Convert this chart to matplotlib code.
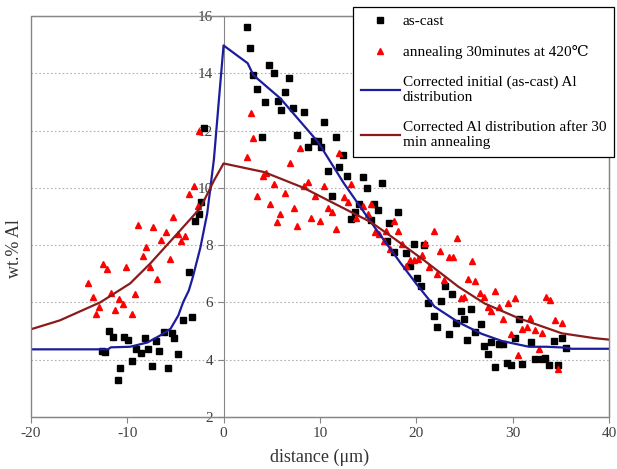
import matplotlib
matplotlib.use("Agg")
import matplotlib.pyplot as plt
from matplotlib.patches import Rectangle

# as-cast measurements
cast_x = [-11.9, -11.5, -12.6, -12.3, -11.0, -10.7, -10.3, -9.9, -9.5, -9.1, -8.6, -8.2,
          -7.8, -7.4, -7.0, -6.7, -6.2, -5.8, -5.4, -5.1, -4.7, -4.2, -3.3, -3.6, -3.0,
          -2.6, -2.3, -2.0,
          2.4, 2.7, 3.1, 3.5, 4.3, 4.7, 5.2, 5.6, 6.0, 6.4, 6.8, 7.2, 8.4, 7.6, 4.0,
          10.4, 11.7, 9.4, 9.8, 8.75, 10.1, 12.4, 10.8, 12.0, 12.8, 11.25, 14.1, 13.6,
          13.2, 14.5, 14.9, 16.4, 15.3, 15.6, 16.0, 17.2, 18.1, 17.0, 17.7, 18.9, 19.8,
          20.8, 19.3, 20.1, 20.5, 21.25, 21.8, 22.2, 22.6, 23.0, 23.4, 23.75, 24.1, 24.6,
          25.0, 25.3, 25.7, 26.1, 26.7, 27.0, 27.4, 27.8, 28.2, 28.6, 29.0, 29.4, 29.8,
          30.2, 30.7, 31.0, 31.9, 32.3, 33.1, 33.4, 33.75, 34.3, 35.1, 35.5, 34.7]
cast_y = [5.0, 4.78, 4.29, 4.26, 3.28, 3.7, 4.78, 4.7, 3.94, 4.36, 4.22, 4.75,
          4.36, 3.77, 4.64, 4.29, 4.95, 3.7, 4.92, 4.75, 4.19, 5.4, 5.5, 7.05, 8.85,
          9.07, 9.5, 12.1,
          15.6, 14.87, 13.93, 13.44, 12.98, 14.28, 14.0, 13.02, 12.7, 13.33, 13.82, 12.77,
          12.63, 11.83, 11.76,
          12.28, 11.76, 11.62, 11.62, 11.41, 11.41, 11.13, 10.57, 10.71, 10.4, 9.73, 9.43,
          9.14, 8.9, 10.37, 10.0, 10.16, 8.87, 9.45, 9.24, 8.76, 9.17, 8.13, 7.75, 7.72,
          8.03, 8.0, 7.26, 6.84, 6.56, 5.97, 5.52, 5.13, 6.04, 6.56, 4.88, 6.28, 5.27,
          5.69, 5.41, 4.68, 5.76, 4.96, 5.24, 4.46, 4.19, 4.6, 3.73, 4.55, 4.53, 3.9,
          3.83, 4.77, 5.41, 3.86, 4.6, 4.02, 4.02, 4.05, 3.83, 4.64, 4.74, 4.39, 3.8]

# after annealing 30 min at 420 C
ann_x = [-2.5, -3.1, -3.6, -2.7, -5.2, -8.85, -7.3, -6.0, -4.7, -4.0, -4.4, -6.5, -8.0,
         -8.4, -5.6, -12.5, -12.1, -10.1, -7.6, -6.9, -14.1, -13.5, -11.7, -10.9, -9.2,
         -12.9, -13.2, -11.25, -10.4, -9.5,
         2.8, 3.1, 2.4, 6.9, 7.9, 4.05, 4.4, 5.2, 6.4, 3.5, 4.8, 7.3, 5.9, 5.5, 7.6,
         8.75, 8.4, 10.4, 9.5, 9.1, 10.0, 10.8, 11.25, 11.7, 12.0, 13.2, 12.5, 12.9,
         13.75, 14.5, 15.0, 15.3, 15.7, 16.1, 16.6, 16.9, 17.3, 17.7, 18.1, 18.5, 18.9,
         19.4, 19.8, 20.2, 20.6, 20.9, 21.35, 21.8, 22.1, 22.5, 22.9, 23.4, 23.85, 24.2,
         24.6, 25.0, 25.4, 25.8, 26.1, 26.6, 27.0, 27.4, 27.8, 28.2, 28.6, 29.0, 29.5,
         30.2, 29.8, 30.6, 31.0, 31.45, 31.8, 32.3, 32.7, 33.1, 33.5, 33.9, 34.4, 34.7,
         35.1]
ann_y = [12.0, 10.08, 9.8, 9.35, 8.97, 8.69, 8.62, 8.44, 8.37, 8.3, 8.13, 8.17, 7.92,
         7.61, 7.5, 7.33, 7.15, 7.22, 7.22, 6.8, 6.66, 6.18, 6.33, 6.13, 6.3,
         5.83, 5.58, 5.75, 5.93, 5.6,
         12.6, 11.73, 11.06, 10.85, 11.4, 10.4, 10.5, 10.15, 9.83, 9.7, 9.42, 9.28, 9.07,
         8.82, 8.68, 10.19, 10.08, 10.08, 9.7, 8.96, 8.83, 9.3, 9.17, 8.55, 11.2, 10.15,
         9.67, 9.5, 8.93, 9.35, 9.1, 9.45, 8.44, 8.4, 8.13, 8.5, 7.85, 8.83, 8.5, 8.05,
         7.28, 7.49, 7.49, 7.53, 7.67, 8.09, 7.25, 8.5, 7.0, 7.78, 6.77, 7.57, 7.57, 8.24,
         6.15, 6.19, 6.8, 7.46, 6.73, 6.32, 6.2, 5.83, 5.69, 6.39, 5.83, 5.41, 5.97,
         6.15, 4.88, 4.15, 5.06, 5.13, 5.45, 5.03, 4.36, 4.92, 6.18, 6.07, 5.4, 3.69,
         5.27]

# corrected profiles
init_x = [-20, -12, -11.7, -9.7, -7.9, -6.6, -5.5, -4.7, -4.2, -3.6, -3.2, -2.4, -1.7,
          -1.0, -0.5, 0, 2.5, 3.1, 5.9, 9.8, 12.5, 15.3, 18.4, 20.0, 21.9, 24.4, 26.8,
          28.9, 31.7, 33.5, 35.5, 36.1, 40]
init_y = [4.36, 4.36, 4.43, 4.45, 4.6, 4.84, 5.08, 5.54, 6.0, 6.42, 6.87, 7.92, 9.1,
          11.0, 13.0, 14.97, 14.35, 13.93, 13.12, 11.6, 10.15, 8.8, 7.36, 6.65, 5.85, 5.3,
          4.9, 4.65, 4.45, 4.45, 4.42, 4.38, 4.38]
annl_x = [-20, -17, -14.6, -12.8, -9.7, -7.6, -4.8, -2.4, -1.0, 0, 4.2, 8.3, 11.5, 15.3,
          17.7, 20.8, 24.4, 27.1, 30.6, 35.1, 38.5, 40]
annl_y = [5.06, 5.37, 5.73, 6.0, 6.66, 7.36, 8.4, 9.3, 10.25, 10.85, 10.55, 10.0, 9.45,
          8.8, 8.23, 7.47, 6.54, 5.96, 5.45, 4.92, 4.75, 4.7]

serif = ['Liberation Serif', 'DejaVu Serif']
plt.rcParams['font.family'] = serif
plt.rcParams['axes.unicode_minus'] = False

fig = plt.figure(figsize=(6.17, 4.69), dpi=100)
ax = fig.add_axes([0.050, 0.111, 0.937, 0.855])

ax.plot(cast_x, cast_y, 's', color='black', markersize=4, label='as-cast', zorder=3)
ax.plot(ann_x, ann_y, '^', color='#ff0000', markersize=5, label='annealing 30minutes at 420\u2103', zorder=3)
ax.plot(init_x, init_y, '-', color='#1c1c9c', lw=1.6,
        label='Corrected initial (as-cast) Al\ndistribution', zorder=4)
ax.plot(annl_x, annl_y, '-', color='#8b1a1a', lw=1.6,
        label='Corrected Al distribution after 30\nmin annealing', zorder=4)

ax.set_xlim(-20, 40)
ax.set_ylim(2, 16)
ax.set_xticks(range(-20, 41, 10))
ax.set_yticks(range(2, 17, 2))
for yv in range(4, 16, 2):
    ax.axhline(yv, color='#b0b0b0', lw=0.8, ls=(0, (1.5, 2)), zorder=1)

for s in ['top', 'right', 'bottom']:
    ax.spines[s].set_color('#868686')
ax.spines['left'].set_position(('data', 0))
ax.spines['left'].set_color('#868686')
ax.add_patch(Rectangle((0, 0), 1, 1, transform=ax.transAxes, fill=False,
                       edgecolor='#868686', lw=1.0, clip_on=False, zorder=5))
ax.tick_params(colors='#868686', labelcolor='#404040', labelsize=11, length=4)

ax.set_xlabel('distance (\u03bcm)', fontsize=13, color='#333333', labelpad=6)
ax.set_ylabel('wt.% Al', fontsize=13, color='#333333')
ax.yaxis.set_label_coords(-0.014, 0.42)

leg = ax.legend(loc='upper left', bbox_to_anchor=(0.572, 0.985),
                bbox_transform=fig.transFigure, fontsize=11, frameon=True,
                fancybox=False, edgecolor='black', framealpha=1, handlelength=2.6,
                labelspacing=1.1, borderpad=0.5, handletextpad=0.15, borderaxespad=0)
leg.get_frame().set_linewidth(0.9)
leg.set_zorder(10)

fig.savefig('out.png', dpi=100)
